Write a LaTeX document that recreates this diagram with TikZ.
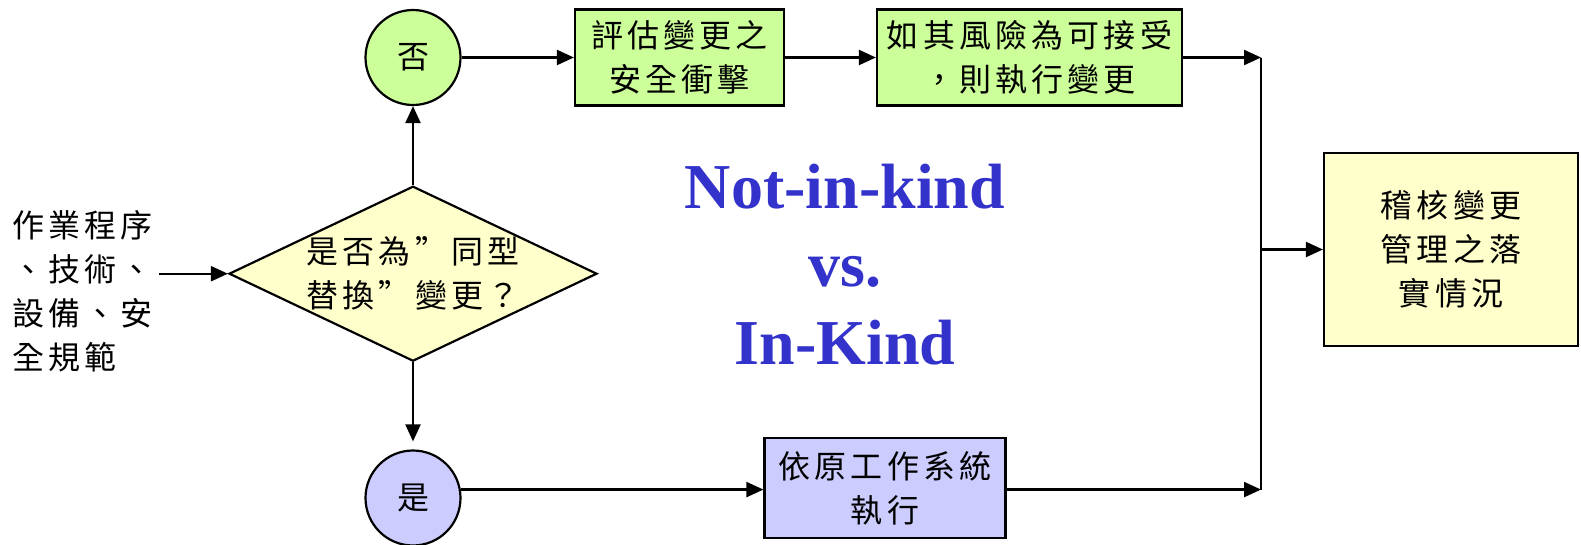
\documentclass[tikz,border=0pt]{standalone}
\usepackage{fontspec}
\setmainfont{Liberation Serif}
\newfontfamily\cjk[LetterSpace=13]{Noto Sans CJK TC}
\usetikzlibrary{shapes.geometric,arrows.meta,calc}

\definecolor{nogreen}{RGB}{204,255,153}
\definecolor{yesblue}{RGB}{204,204,255}
\definecolor{noteyellow}{RGB}{255,255,204}
\definecolor{titleblue}{RGB}{51,51,204}

\tikzset{
  cjktext/.style={font=\fontsize{32}{44}\cjk, align=center},
  box/.style={draw, line width=2.2pt, rectangle, inner sep=0pt, cjktext},
  ring/.style={draw, line width=2.2pt, circle, minimum size=95pt, inner sep=0pt, cjktext},
  arr/.style={line width=2.2pt, -{Triangle[length=17pt,width=15pt]}},
  link/.style={line width=2.2pt},
}

\begin{document}
\begin{tikzpicture}[x=1pt,y=-1pt]
  \useasboundingbox (0,0) rectangle (1581,544);
  \fill[white] (0,0) rectangle (1581,544);

  % decision and its two outcomes
  \node[diamond, draw, line width=2.2pt, fill=noteyellow, minimum width=368pt,
        minimum height=175pt, inner sep=0pt] (ask) at (413,273.7) {};
  \node[cjktext, align=left] (asktext) at (ask.center) {是否為”同型\\替換”變更？};
  \node[ring, fill=nogreen] (no) at (413,57.5) {否};
  \node[ring, fill=yesblue] (yes) at (413,498) {是};

  % input sources
  \node[cjktext, align=left, anchor=west, inner sep=0pt] (src) at (12,291)
       {作業程序\\、技術、\\設備、安\\全規範};

  % process boxes
  \node[box, fill=nogreen, minimum width=209pt, minimum height=96pt] (assess)
       at (679.5,57.5) {評估變更之\\安全衝擊};
  \node[box, fill=nogreen, minimum width=305pt, minimum height=96pt] (accept)
       at (1029.5,57.5) {如其風險為可接受\\，則執行變更};
  \node[box, fill=yesblue, minimum width=241pt, minimum height=100pt] (keep)
       at (885,488) {依原工作系統\\執行};
  \node[box, fill=noteyellow, minimum width=254pt, minimum height=193pt] (audit)
       at (1451,249.5) {稽核變更\\管理之落\\實情況};

  % headline
  \node[font=\bfseries\fontsize{64}{78}\selectfont, text=titleblue, align=center]
       (title) at (845,265) {Not-in-kind\\vs.\\In-Kind};

  % collecting bus
  \coordinate (bus) at (1261,0);

  % connectors
  \draw[arr] ([xshift=6pt]src.east |- ask.west) -- (ask.west);
  \draw[arr] (ask.north) -- (no.south);
  \draw[arr, shorten >=8pt] (ask.south) -- (yes.north);
  \draw[arr] (no.east) -- (assess.west);
  \draw[arr] (assess.east) -- (accept.west);
  \draw[arr] (accept.east) -- (accept.east -| bus);
  \draw[arr] (yes.10) -- (yes.10 -| keep.west);
  \draw[arr] (yes.10 -| keep.east) -- (yes.10 -| bus);
  \draw[link] (accept.east -| bus) -- (yes.10 -| bus);
  \draw[arr] (bus |- audit.west) -- (audit.west);
\end{tikzpicture}
\end{document}
